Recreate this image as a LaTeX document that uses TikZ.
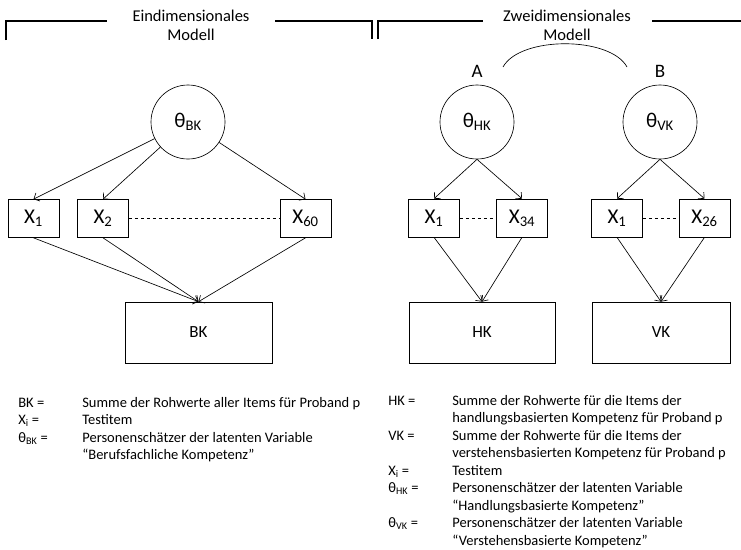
\documentclass[tikz,border=0pt]{standalone}
\usepackage{fontspec}
\setmainfont{Carlito}
\usetikzlibrary{arrows.meta, positioning}

\begin{document}
\begin{tikzpicture}[x=1pt, y=-1pt, >={Straight Barb[length=4.5pt,width=9pt]}, line width=0.65pt,
    latent/.style={draw, circle, minimum size=74pt, inner sep=0pt, font=\fontsize{21}{24}\selectfont},
    item/.style={draw, minimum width=51pt, minimum height=38pt, inner sep=0pt, font=\fontsize{21}{24}\selectfont},
    sumbox/.style={draw, minimum height=61pt, inner sep=0pt, font=\fontsize{17}{20}\selectfont},
    header/.style={align=center, font=\fontsize{16.5}{19}\selectfont},
    bracket/.style={line width=2pt},
    legend/.style={anchor=base west, inner sep=0pt, font=\fontsize{14.5}{17.5}\selectfont}]

\useasboundingbox (0,0) rectangle (741,549);

% ── Headers ──────────────────────────────────────────────────────
\node[header] (eindim) at (191,25) {Eindimensionales\\Modell};
\node[header] (zweidim) at (567,25) {Zweidimensionales\\Modell};
\draw[bracket] (6,40) -- (6,21) -- (107,21);
\draw[bracket] (275,21) -- (372,21) -- (372,39);
\draw[bracket] (378,39) -- (378,21) -- (483,21);
\draw[bracket] (652,21) -- (741,21);

% ── LEFT: one dimension ──────────────────────────────────────────
\node[latent] (thBK) at (188,122) {θ\textsubscript{BK}};
\node[item] (x1) at (33.5,218.5) {X\textsubscript{1}};
\node[item] (x2) at (103,218.5) {X\textsubscript{2}};
\node[item] (x60) at (305.5,218.5) {X\textsubscript{60}};
\node[sumbox, minimum width=147pt] (BK) at (198.5,332.5) {BK};

\foreach \i in {x1, x2, x60} {
    \draw[->] (thBK) -- (\i.north);
    \draw[->] (\i.south) -- (BK.north);
}
\draw[dashed] (x2.east) -- (x60.west);

% ── RIGHT: two dimensions ────────────────────────────────────────
\node[header, font=\fontsize{19}{22}\selectfont] (a) at (477,71) {A};
\node[header, font=\fontsize{19}{22}\selectfont] (b) at (660,71) {B};
\coordinate (arcL) at (503,67);
\coordinate (arcR) at (627,67);
\draw (arcL) .. controls (520,36) and (610,36) .. (arcR);

\node[latent] (thHK) at (477,122) {θ\textsubscript{HK}};
\node[item] (hx1) at (434,218) {X\textsubscript{1}};
\node[item] (hx34) at (522,218) {X\textsubscript{34}};
\node[sumbox, minimum width=146pt] (HK) at (482,332.5) {HK};

\node[latent] (thVK) at (660,122) {θ\textsubscript{VK}};
\node[item] (vx1) at (617,218) {X\textsubscript{1}};
\node[item] (vx26) at (704.5,218) {X\textsubscript{26}};
\node[sumbox, minimum width=138pt] (VK) at (661,332.5) {VK};

\foreach \t/\p/\q/\s in {thHK/hx1/hx34/HK, thVK/vx1/vx26/VK} {
    \draw[->] (\t.south) -- (\p.north);
    \draw[->] (\t.south) -- (\q.north);
    \draw[->] (\p.south) -- (\s.north);
    \draw[->] (\q.south) -- (\s.north);
    \draw[dashed] (\p.east) -- (\q.west);
}

% ── Legends ──────────────────────────────────────────────────────
\node[legend] (legL) at (18,407) {\begin{tabular}[t]{@{}p{64pt}@{}l@{}}
    BK = & Summe der Rohwerte aller Items für Proband p\\
    X\textsubscript{i} = & Testitem\\
    θ\textsubscript{BK} = & Personenschätzer der latenten Variable\\
     & “Berufsfachliche Kompetenz”
\end{tabular}};

\node[legend] (legR) at (388,405) {\begin{tabular}[t]{@{}p{64pt}@{}l@{}}
    HK = & Summe der Rohwerte für die Items der\\
     & handlungsbasierten Kompetenz für Proband p\\
    VK = & Summe der Rohwerte für die Items der\\
     & verstehensbasierten Kompetenz für Proband p\\
    X\textsubscript{i} = & Testitem\\
    θ\textsubscript{HK} = & Personenschätzer der latenten Variable\\
     & “Handlungsbasierte Kompetenz”\\
    θ\textsubscript{VK} = & Personenschätzer der latenten Variable\\
     & “Verstehensbasierte Kompetenz”
\end{tabular}};

\end{tikzpicture}
\end{document}
